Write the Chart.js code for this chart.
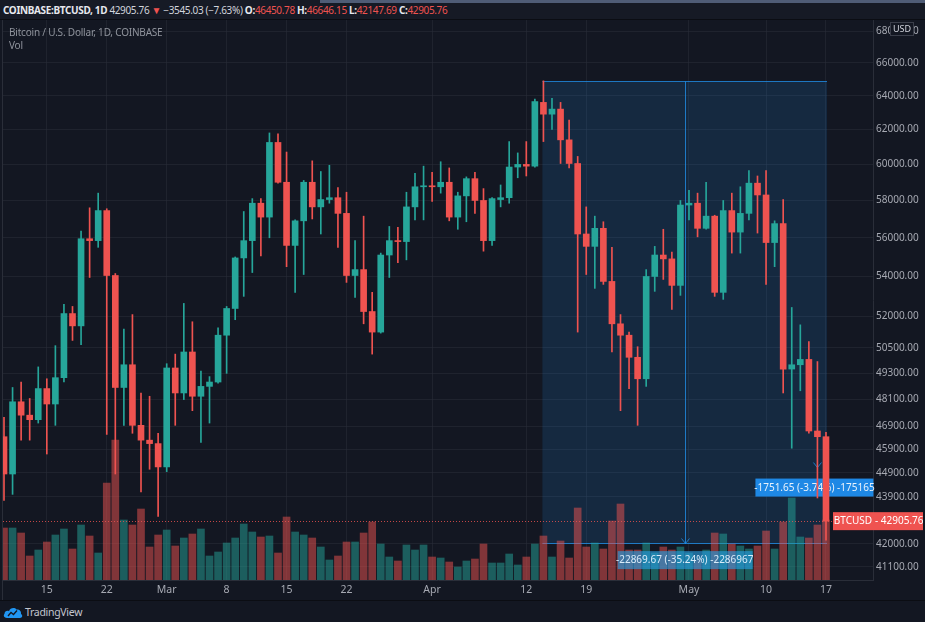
<!DOCTYPE html>
<html>
<head>
<meta charset="utf-8">
<script src="https://cdn.jsdelivr.net/npm/chart.js@4.4.0/dist/chart.umd.min.js"></script>
<style>
html, body { margin: 0; padding: 0; background: #131722; }
#wrap { position: relative; width: 925px; height: 622px; overflow: hidden; background: #131722; font-family: "Noto Sans", sans-serif; }
#chart { position: absolute; left: 0; top: 0; }
#topbar { position: absolute; left: 0; top: 0; width: 925px; height: 19px; background: #161a25; border-bottom: 1px solid #0b0d13; }
#strip { position: absolute; left: 320px; top: 0; width: 605px; height: 3px; background: #4f5c76; }
#header { position: absolute; left: 3px; top: 3px; font-size: 10px; line-height: 14px; color: #d1d4dc; white-space: nowrap; letter-spacing: -0.35px; }
#header b { font-weight: 700; color: #e6e8ee; }
#header .dn { color: #ef5350; }
#legend { position: absolute; left: 9px; top: 26px; font-size: 10px; line-height: 13px; color: #8f939c; letter-spacing: -0.2px; }
#footer { position: absolute; left: 0; top: 600px; width: 925px; height: 22px; background: #131722; border-top: 1px solid #0b0d13; }
#logo { position: absolute; left: 3px; top: 4px; display: flex; align-items: center; font-size: 10.5px; letter-spacing: -0.3px; color: #c3c6ce; }
#logo svg { margin-right: 2px; }
</style>
</head>
<body>
<div id="wrap">
  <canvas id="chart" width="925" height="622"></canvas>
  <div id="topbar"></div>
  <div id="strip"></div>
  <div id="header"><b>COINBASE:BTCUSD, 1D</b> 42905.76 <span class="dn">&#9660;</span> &minus;3545.03 (&minus;7.63%) <b>O:</b><span class="dn">46450.78</span> <b>H:</b><span class="dn">46646.15</span> <b>L:</b><span class="dn">42147.69</span> <b>C:</b><span class="dn">42905.76</span></div>
  <div id="legend">Bitcoin / U.S. Dollar, 1D, COINBASE<br>Vol</div>
  <div id="footer">
    <div id="logo">
      <svg width="20" height="13" viewBox="0 0 20 13"><path d="M4 12 C1 12 0 9.5 1.5 7.8 C1.5 5 4.5 4 6 5.2 C7 2 11.5 1 13.5 3.6 C16.5 3 18.5 5.5 18 8 C20 9 19.5 12 17 12 Z" fill="#2196f3"/><path d="M5 10 L8 6.5 L10.5 8.5 L14 4.5" stroke="#131722" stroke-width="1.3" fill="none"/></svg>
      TradingView
    </div>
  </div>
</div>
<script>
// Daily candles, COINBASE BTCUSD, 10 Feb 2021 .. 17 May 2021 (index 0 .. 96)
const opens = [46450, 44850, 48000, 47400, 47200, 48600, 47900, 49100, 52150, 51550,
  55950, 55850, 57450, 54050, 48650, 49700, 46950, 46300, 46150, 45150,
  49550, 48400, 50300, 48250, 48700, 48900, 51100, 52400, 54950, 55850,
  57850, 57100, 61250, 59000, 55600, 56900, 59000, 57650, 58050, 58150,
  57300, 54050, 54350, 52250, 51250, 55100, 55850, 55800, 57650, 58750,
  58800, 58750, 59000, 57100, 58250, 59200, 58000, 55850, 58050, 58150,
  59850, 60000, 59900, 63600, 62900, 63200, 61400, 60050, 56200, 55550,
  56500, 53750, 51650, 51100, 50050, 49050, 54000, 55100, 54900, 53550,
  57750, 57850, 56500, 57150, 53200, 57450, 56300, 57300, 58950, 58300,
  55750, 56750, 49500, 49700, 49950, 46700, 46450.78];
const highs = [47300, 48650, 48900, 48150, 49600, 49050, 50600, 52600, 52500, 56350,
  57600, 58400, 57550, 54150, 51400, 52100, 48400, 48250, 46600, 49750,
  50200, 52650, 51750, 49400, 49150, 51450, 52500, 55000, 57400, 58100,
  58100, 61800, 61750, 60700, 56950, 59100, 60200, 59600, 59950, 58700,
  58450, 55850, 57150, 53200, 55200, 56600, 56550, 58450, 59500, 59900,
  59550, 60150, 59800, 58450, 59300, 59550, 58650, 58150, 58850, 61300,
  60650, 61300, 63800, 64900, 63850, 63600, 62550, 60450, 57650, 57150,
  56850, 55500, 52100, 51250, 50550, 54350, 55550, 56450, 55250, 58000,
  58550, 58400, 59000, 57200, 58000, 58400, 58750, 59650, 59350, 59650,
  56900, 58050, 52450, 51600, 50800, 49850, 46646.15];
const lows = [43750, 44000, 46300, 46300, 47050, 45700, 46950, 48900, 50850, 50650,
  53950, 55500, 46550, 44850, 46950, 46600, 44100, 45050, 43100, 44950,
  46950, 48100, 47600, 46200, 47050, 48850, 49300, 51850, 53000, 54200,
  55050, 56000, 58950, 54500, 53200, 54100, 57000, 56200, 57850, 55500,
  53700, 52950, 51650, 50200, 51200, 53950, 54700, 54850, 56950, 56950,
  57950, 58400, 56900, 56450, 56850, 57300, 55300, 55600, 57650, 57850,
  59250, 59350, 59850, 61300, 62000, 60050, 59800, 51250, 54100, 53400,
  53600, 50300, 47600, 48600, 46950, 48700, 53250, 53850, 52350, 53050,
  56950, 56050, 56450, 53000, 52850, 55200, 55200, 56950, 56250, 53600,
  54500, 48400, 45950, 48500, 46600, 43850, 42147.69];
const closes = [44850, 48000, 47400, 47200, 48600, 47900, 49100, 52150, 51550, 55950,
  55850, 57450, 54050, 48650, 49700, 46950, 46300, 46150, 45150, 49550,
  48400, 50300, 48250, 48700, 48900, 51100, 52400, 54950, 55850, 57850,
  57100, 61250, 59000, 55600, 56900, 59000, 57650, 58050, 58150, 57300,
  54050, 54350, 52250, 51250, 55100, 55850, 55800, 57650, 58750, 58800,
  58750, 59000, 57100, 58250, 59200, 58000, 55850, 58100, 58150, 59850,
  60000, 59900, 63650, 62900, 63200, 61400, 60050, 56200, 55550, 56500,
  53750, 51650, 51100, 50050, 49050, 54000, 55100, 54900, 53550, 57750,
  57850, 56500, 57150, 53200, 57450, 56300, 57300, 58950, 58300, 55750,
  56750, 49500, 49700, 49950, 46700, 46450, 42905.76];
// volume, relative units (no scale shown on the chart)
const volumes = [52, 52, 47, 24, 30, 38, 45, 51, 31, 55, 44, 27, 97, 140, 60, 55, 71, 33, 45, 50, 34, 42, 46, 51, 24,
  28, 37, 42, 56, 48, 43, 44, 27, 63, 48, 45, 42, 33, 20, 24, 38, 38, 47, 58, 36, 23, 19, 35, 30,
  35, 23, 22, 18, 13, 19, 21, 36, 17, 17, 26, 15, 23, 36, 44, 23, 39, 22, 72, 33, 37, 31, 59, 76,
  30, 30, 37, 27, 33, 30, 33, 27, 20, 30, 47, 46, 36, 34, 31, 34, 49, 31, 58, 82, 43, 42, 55, 60];

const priceTicks = [68000, 66000, 64000, 62000, 60000, 58000, 56000, 54000, 52000, 50500,
  49300, 48100, 46900, 45900, 44900, 43900, 42000, 41100];
const xTickIdx = [5, 12, 19, 26, 33, 40, 50, 61, 68, 80, 89, 96];
const xTickLabels = ['15', '22', 'Mar', '8', '15', '22', 'Apr', '12', '19', 'May', '10', '17'];

// date & price range tool: 14 Apr high -> 17 May
const rangeStart = 63, rangeEnd = 96;
const rangeHigh = 64899.34, rangeLow = 42029.67;
const rangeText = '-22869.67 (-35.24%) -2286967';
// second small range on 16 May
const smallIdx = 95, smallLow = 45080;
const smallText = '-1751.65 (-3.74%) -175165';

const UP = '#26a69a', DOWN = '#ef5350';
const colorOf = i => closes[i] >= opens[i] ? UP : DOWN;

const idx = closes.map((c, i) => i);
const wickData = idx.map(i => ({ x: i, y: [lows[i], highs[i]] }));
const bodyData = idx.map(i => ({ x: i, y: [opens[i], closes[i]] }));
const volData = idx.map(i => ({ x: i, y: volumes[i] }));

const overlay = {
  id: 'overlay',
  beforeDatasetsDraw(chart) {
    const { ctx, scales: { x, y } } = chart;
    const x1 = x.getPixelForValue(rangeStart) - 1, x2 = x.getPixelForValue(rangeEnd) + 1;
    const y1 = Math.round(y.getPixelForValue(rangeHigh)) + 0.5, y2 = Math.round(y.getPixelForValue(rangeLow)) + 0.5;
    ctx.save();
    ctx.fillStyle = 'rgba(33,150,243,0.15)';
    ctx.fillRect(x1, y1, x2 - x1, y2 - y1);
    ctx.strokeStyle = 'rgba(33,150,243,0.75)';
    ctx.lineWidth = 1;
    ctx.beginPath();
    ctx.moveTo(x1, y1); ctx.lineTo(x2, y1);
    ctx.moveTo(x1, y2); ctx.lineTo(x2, y2);
    const xm = Math.round((x1 + x2) / 2) + 0.5;
    ctx.moveTo(xm, y1); ctx.lineTo(xm, y2);
    ctx.moveTo(xm - 4, y2 - 5); ctx.lineTo(xm, y2); ctx.lineTo(xm + 4, y2 - 5);
    ctx.stroke();

    // small range label, drawn under the candles
    const sx = x.getPixelForValue(smallIdx);
    const sy = y.getPixelForValue(smallLow);
    ctx.beginPath();
    ctx.moveTo(sx - 4, sy - 6); ctx.lineTo(sx, sy - 1); ctx.lineTo(sx + 4, sy - 6);
    ctx.stroke();
    ctx.fillStyle = '#1e88e5';
    ctx.fillRect(sx - 62, sy + 10, 118, 18);
    ctx.fillStyle = '#e8f2fc';
    ctx.font = '10px "Noto Sans", sans-serif';
    ctx.textAlign = 'center';
    ctx.textBaseline = 'middle';
    ctx.fillText(smallText, sx - 3, sy + 19.5);
    ctx.restore();
  },
  afterDatasetsDraw(chart) {
    const { ctx, chartArea: a, scales: { x, y } } = chart;
    ctx.save();
    const x1 = x.getPixelForValue(rangeStart), x2 = x.getPixelForValue(rangeEnd);
    const y2 = y.getPixelForValue(rangeLow);
    const xm = (x1 + x2) / 2;
    ctx.fillStyle = 'rgba(38,160,228,0.62)';
    ctx.fillRect(xm - 67, y2 + 8, 135, 18);
    ctx.fillStyle = '#d8ecfa';
    ctx.font = '10px "Noto Sans", sans-serif';
    ctx.textAlign = 'center';
    ctx.textBaseline = 'middle';
    ctx.fillText(rangeText, xm, y2 + 17.5);

    // last price line
    const yc = Math.round(y.getPixelForValue(closes[closes.length - 1])) + 0.5;
    ctx.strokeStyle = 'rgba(239,83,80,0.8)';
    ctx.setLineDash([1, 2]);
    ctx.beginPath();
    ctx.moveTo(a.left, yc); ctx.lineTo(a.right, yc);
    ctx.stroke();
    ctx.restore();
  },
  afterDraw(chart) {
    const { ctx, chartArea: a, scales: { y } } = chart;
    ctx.save();
    const yc = y.getPixelForValue(closes[closes.length - 1]);
    ctx.fillStyle = DOWN;
    ctx.fillRect(a.right - 40, yc - 9, 40, 18);
    ctx.fillRect(a.right, yc - 9, chart.width - a.right - 2, 18);
    ctx.fillStyle = '#ffffff';
    ctx.font = '10px "Noto Sans", sans-serif';
    ctx.textBaseline = 'middle';
    ctx.textAlign = 'center';
    ctx.fillText('BTCUSD', a.right - 20, yc + 0.5);
    ctx.textAlign = 'left';
    ctx.fillText('- ' + closes[closes.length - 1].toFixed(2), a.right + 2, yc + 0.5);

    // currency badge over the top tick
    ctx.fillStyle = '#131722';
    ctx.fillRect(890.5, 22.5, 23, 13);
    ctx.strokeStyle = '#3a3e4a';
    ctx.setLineDash([]);
    ctx.strokeRect(890.5, 22.5, 23, 13);
    ctx.fillStyle = '#d1d4dc';
    ctx.font = '9px "Noto Sans", sans-serif';
    ctx.textAlign = 'center';
    ctx.fillText('USD', 902, 29.5);

    // left panel border
    ctx.strokeStyle = '#2a2e39';
    ctx.beginPath();
    ctx.moveTo(a.left - 0.5, a.top); ctx.lineTo(a.left - 0.5, 600);
    ctx.stroke();
    ctx.restore();
  }
};

Chart.defaults.font.family = '"Noto Sans", sans-serif';
Chart.defaults.font.size = 10;
Chart.defaults.color = '#a6a9b2';

new Chart(document.getElementById('chart'), {
  type: 'bar',
  data: {
    datasets: [
      {
        label: 'Body',
        data: bodyData,
        yAxisID: 'y',
        backgroundColor: c => colorOf(c.dataIndex),
        barThickness: 6,
        minBarLength: 1,
        grouped: false,
        order: 1
      },
      {
        label: 'Wick',
        data: wickData,
        yAxisID: 'y',
        backgroundColor: c => colorOf(c.dataIndex),
        barThickness: 1,
        grouped: false,
        order: 2
      },
      {
        label: 'Vol',
        data: volData,
        yAxisID: 'yv',
        backgroundColor: c => colorOf(c.dataIndex) === UP ? 'rgba(38,166,154,0.5)' : 'rgba(239,83,80,0.5)',
        barThickness: 7,
        grouped: false,
        order: 3
      }
    ]
  },
  options: {
    responsive: false,
    animation: false,
    devicePixelRatio: 1,
    layout: { padding: { top: 20, left: 3, right: 0, bottom: 0 } },
    plugins: { legend: { display: false }, tooltip: { enabled: false } },
    scales: {
      x: {
        type: 'linear',
        min: -0.117,
        max: 101.49,
        offset: false,
        grid: { offset: false, color: 'rgba(42,46,57,0.55)', drawTicks: false },
        border: { color: '#2a2e39' },
        afterBuildTicks: s => { s.ticks = xTickIdx.map(v => ({ value: v })); },
        afterFit: s => { s.height = 42; },
        ticks: {
          autoSkip: false,
          maxRotation: 0,
          padding: 4,
          font: { size: 10.5 },
          callback: v => xTickLabels[xTickIdx.indexOf(v)]
        }
      },
      y: {
        type: 'logarithmic',
        position: 'right',
        min: 40597,
        max: 68721,
        grid: { color: 'rgba(42,46,57,0.55)', drawTicks: false },
        border: { color: '#2a2e39' },
        afterBuildTicks: s => { s.ticks = priceTicks.map(v => ({ value: v })); },
        afterFit: s => { s.width = 52; },
        ticks: {
          autoSkip: false,
          padding: 3,
          callback: v => Number(v).toFixed(2)
        }
      },
      yv: {
        type: 'linear',
        display: false,
        min: 0,
        max: 560
      }
    }
  },
  plugins: [overlay]
});
</script>
</body>
</html>
